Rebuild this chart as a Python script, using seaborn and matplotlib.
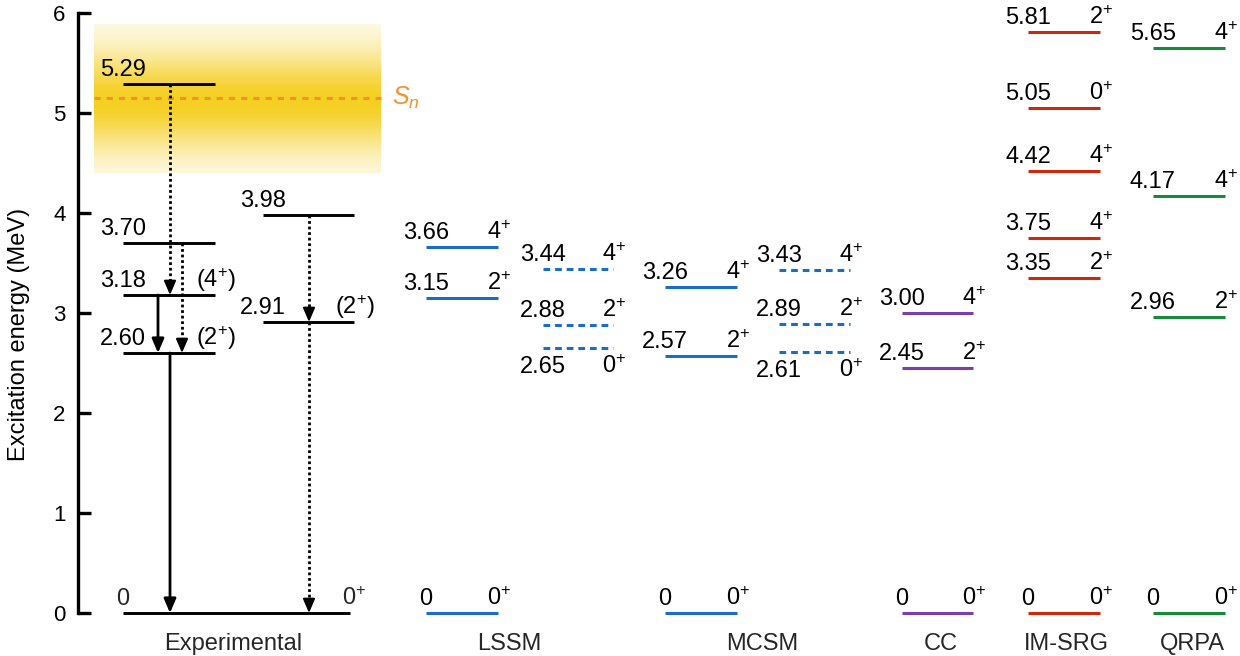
import numpy as np
import matplotlib
matplotlib.use("Agg")
import matplotlib.pyplot as plt
import seaborn as sns

# ---------------- data ----------------
categories = ["Experimental", "LSSM", "MCSM", "CC", "IM-SRG", "QRPA"]

exp_a_energy = [5.29, 3.70, 3.18, 2.60]
exp_a_spin = ["", "", "(4+)", "(2+)"]
exp_b_energy = [3.98, 2.91]
exp_b_spin = ["", "(2+)"]
exp_ground_energy = [0.0]
exp_ground_spin = ["0+"]

lssm_energy = [3.66, 3.15, 0.0]
lssm_spin = ["4+", "2+", "0+"]
lssm2_energy = [3.44, 2.88, 2.65]
lssm2_spin = ["4+", "2+", "0+"]
mcsm_energy = [3.26, 2.57, 0.0]
mcsm_spin = ["4+", "2+", "0+"]
mcsm2_energy = [3.43, 2.89, 2.61]
mcsm2_spin = ["4+", "2+", "0+"]
cc_energy = [3.00, 2.45, 0.0]
cc_spin = ["4+", "2+", "0+"]
imsrg_energy = [5.81, 5.05, 4.42, 3.75, 3.35, 0.0]
imsrg_spin = ["2+", "0+", "4+", "4+", "2+", "0+"]
qrpa_energy = [5.65, 4.17, 2.96, 0.0]
qrpa_spin = ["4+", "4+", "2+", "0+"]

sn_energy = 5.15
sn_band = [4.40, 5.89]

# transitions: (column x, from, to, style)
transitions = [
    (170, 5.29, 3.18, "dotted"),
    (182, 3.70, 2.60, "dotted"),
    (158, 3.18, 2.60, "solid"),
    (170, 2.60, 0.00, "solid"),
    (309, 3.98, 2.91, "dotted"),
    (309, 2.91, 0.00, "dotted"),
]

# ---------------- style ----------------
sns.set_theme(style="white")
plt.rcParams["font.family"] = ["Liberation Sans", "DejaVu Sans"]
plt.rcParams["mathtext.fontset"] = "custom"
plt.rcParams["mathtext.rm"] = "Liberation Sans"
plt.rcParams["mathtext.it"] = "Liberation Sans:italic"

BLUE = "#1a6cc4"
PURPLE = "#7a3fae"
RED = "#cc2a0c"
GREEN = "#17893a"
ORANGE = "#f3912a"

fig = plt.figure(figsize=(12.4, 6.56), dpi=100)
ax = fig.add_axes([78 / 1240, 43 / 656, 1162 / 1240, 600 / 656])
ax.set_xlim(78, 1240)
ax.set_ylim(0, 6)

FS = 17


def spin_text(s):
    if not s:
        return ""
    if s.startswith("("):
        return r"$\mathregular{(%s^{+})}$" % s[1]
    return r"$\mathregular{%s^{+}}$" % s[0]


def elabel(v):
    return "0" if v == 0 else f"{v:.2f}"


def draw_col(energies, spins, x0, x1, color, ls="-", lw=2.2, below=(), show_e=True):
    ax.hlines(energies, x0, x1, colors=color, linestyles=ls, lw=lw, zorder=3, clip_on=False)
    for e, s in zip(energies, spins):
        if e in below:
            yt = e - 0.25
        else:
            yt = e + 0.08
        if show_e:
            ax.text(x0, yt, elabel(e), ha="center", va="baseline", fontsize=FS, color="black")
        if s:
            ax.text(x1 + 1, yt, spin_text(s), ha="center", va="baseline", fontsize=FS, color="black")


# yellow band with vertical gradient
yy = np.linspace(sn_band[0], sn_band[1], 300)
alpha = 0.07 + 0.93 * np.exp(-((yy - 5.12) / 0.48) ** 2)
rgba = np.zeros((len(yy), 2, 4))
rgba[..., 0] = 0.962
rgba[..., 1] = 0.815
rgba[..., 2] = 0.13
rgba[..., 3] = alpha[:, None]
ax.imshow(rgba, extent=[94, 381, sn_band[0], sn_band[1]], origin="lower",
          aspect="auto", interpolation="bilinear", zorder=1)
ax.hlines(sn_energy, 94, 381, colors=ORANGE, linestyles=(0, (2, 2)), lw=2.2, zorder=2)
ax.text(392, sn_energy, r"$S_n$", color=ORANGE, fontsize=18, ha="left", va="center")

# experimental
draw_col(exp_a_energy, exp_a_spin, 123, 215, "black", lw=2.1)
draw_col(exp_b_energy, exp_b_spin, 263, 354, "black", lw=2.1)
ax.hlines(exp_ground_energy, 123, 350, colors="black", lw=2.1, zorder=3, clip_on=False)
ax.text(123, exp_ground_energy[0] + 0.08, "0", ha="center", va="baseline", fontsize=FS)
ax.text(354, exp_ground_energy[0] + 0.08, spin_text(exp_ground_spin[0]), ha="center",
        va="baseline", fontsize=FS)

# theory
dash = (0, (2.2, 1.6))
draw_col(lssm_energy, lssm_spin, 426, 498, BLUE)
draw_col(lssm2_energy, lssm2_spin, 543, 613, BLUE, ls=dash, below=(2.65,))
draw_col(mcsm_energy, mcsm_spin, 665, 737, BLUE)
draw_col(mcsm2_energy, mcsm2_spin, 779, 850, BLUE, ls=dash, below=(2.61,))
draw_col(cc_energy, cc_spin, 902, 973, PURPLE)
draw_col(imsrg_energy, imsrg_spin, 1028, 1100, RED)
draw_col(qrpa_energy, qrpa_spin, 1153, 1225, GREEN)

# transitions
for x, e0, e1, style in transitions:
    head = 0.12
    if style == "dotted":
        ax.plot([x, x], [e0, e1 + head], color="black", lw=2.0, ls=(0, (1, 1)), zorder=4)
        ax.annotate("", xy=(x, e1), xytext=(x, e1 + head + 0.02),
                    arrowprops=dict(arrowstyle="-|>,head_length=0.7,head_width=0.3",
                                    color="black", lw=1.5, shrinkA=0, shrinkB=0), zorder=4)
    else:
        ax.annotate("", xy=(x, e1), xytext=(x, e0),
                    arrowprops=dict(arrowstyle="-|>,head_length=0.7,head_width=0.3",
                                    color="black", lw=2.0, shrinkA=0, shrinkB=0), zorder=4)

# category labels
cat_x = [233, 509, 762, 941, 1066, 1192]
for name, cx in zip(categories, cat_x):
    ax.text(cx, -0.37, name, ha="center", va="baseline", fontsize=17, clip_on=False)

# axes styling
sns.despine(ax=ax, top=True, right=True, bottom=True, left=False)
ax.spines["left"].set_linewidth(2.4)
ax.spines["left"].set_color("black")
ax.set_xticks([])
ax.set_yticks(range(0, 7))
ax.tick_params(axis="y", direction="in", length=9, width=2.4, pad=9, labelsize=16,
               colors="black", left=True)
ax.set_ylabel("Excitation energy (MeV)", fontsize=17, color="black")
ax.yaxis.set_label_coords(-0.041, 0.465)
ax.grid(False)

fig.savefig("out.png", dpi=100)
